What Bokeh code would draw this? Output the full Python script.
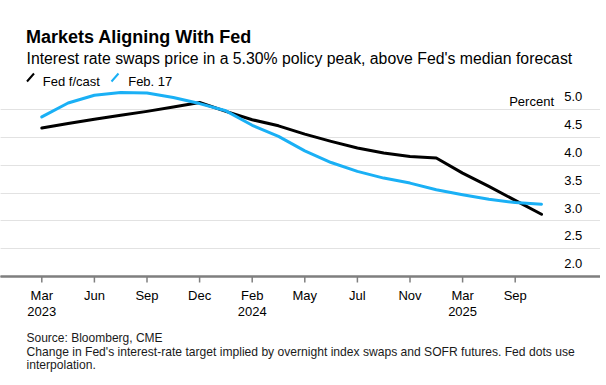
from bokeh.plotting import figure
from bokeh.models import (ColumnDataSource, Label, LabelSet, Grid, PolyAnnotation,
                          FixedTicker, Range1d)
from bokeh.embed import file_html
from bokeh.resources import INLINE
from bokeh.core.properties import value

# ---- data ----
month_labels = ["Mar", "Jun", "Sep", "Dec", "Feb", "May", "Jul", "Nov", "Mar", "Sep"]
year_labels = ["2023", "", "", "", "2024", "", "", "", "2025", ""]
fed_fcast = [4.67, 4.75, 4.83, 4.90, 4.97, 5.05, 5.13, 4.97, 4.82, 4.71,
             4.56, 4.43, 4.31, 4.22, 4.16, 4.13, 3.86, 3.62, 3.37, 3.12]
feb_17 = [4.87, 5.12, 5.26, 5.31, 5.30, 5.22, 5.11, 4.98, 4.72, 4.52,
          4.26, 4.05, 3.89, 3.77, 3.68, 3.56, 3.47, 3.39, 3.33, 3.30]
y_ticks = [2.0, 2.5, 3.0, 3.5, 4.0, 4.5, 5.0]

FONT = "Liberation Sans"
BLUE = "#1ab0f5"
GRID = "#e2e2e2"
AXIS = "#7f7f7f"

# ---- layout (pixels) ----
W, H = 600, 380
X0_PX, DX_PX = 41.3, 26.3          # pixel of first point, pixels per point
Y_BASE, Y0_PX, DY_PX = 2.0, 276.0, 55.6  # value at axis, its pixel row, px per unit
PLOT_L, PLOT_R, LAB_L, LAB_R = 32.0, 550.7, 556.7, 581.0

def xd(px):
    return (px - X0_PX) / DX_PX

def yd(py):
    return Y_BASE + (Y0_PX - py) / DY_PX

x_idx = list(range(len(fed_fcast)))
tick_pos = [2 * i for i in range(len(month_labels))]

p = figure(width=W, height=H, output_backend="svg", toolbar_location=None,
           x_range=Range1d(xd(0), xd(W)), y_range=Range1d(yd(H), yd(0)),
           x_axis_location=None, y_axis_location=None, min_border=0,
           outline_line_color=None)
p.background_fill_color = "white"
p.border_fill_color = "white"
p.xgrid.visible = False
p.ygrid.visible = False

# horizontal gridlines in two pieces (plot area and value-label column)
for lo, hi in [(PLOT_L, PLOT_R), (LAB_L, LAB_R)]:
    p.add_layout(Grid(dimension=1, ticker=FixedTicker(ticks=y_ticks[1:]),
                      bounds=(xd(lo), xd(hi)), grid_line_color=GRID,
                      grid_line_width=1))
    p.add_layout(Grid(dimension=1, ticker=FixedTicker(ticks=y_ticks[:1]),
                      bounds=(xd(lo), xd(hi)), grid_line_color=AXIS,
                      grid_line_width=2, level="guide"))

# x ticks and labels
tick_len = 6 / DY_PX
p.segment(x0=tick_pos, x1=tick_pos, y0=[y_ticks[0]] * len(tick_pos),
          y1=[y_ticks[0] - tick_len] * len(tick_pos), line_color=AXIS, line_width=1.5)
xsrc = ColumnDataSource(dict(x=tick_pos, y=[y_ticks[0]] * len(tick_pos),
                             m=month_labels, yr=year_labels))
for col, off in [("m", -23.3), ("yr", -39.0)]:
    p.add_layout(LabelSet(x="x", y="y", text=col, source=xsrc, text_align="center",
                          text_baseline="alphabetic", y_offset=off,
                          text_font=value(FONT), text_font_size="13px",
                          text_color="#000000"))

# lines
p.line(x_idx, fed_fcast, line_color="black", line_width=3, line_join="round",
       line_cap="round")
p.line(x_idx, feb_17, line_color=BLUE, line_width=3, line_join="round",
       line_cap="round")

# y labels (above gridlines, right-aligned)
ysrc = ColumnDataSource(dict(x=[xd(LAB_R) + 0.03] * len(y_ticks), y=y_ticks,
                             t=[f"{v:.1f}" for v in y_ticks]))
p.add_layout(LabelSet(x="x", y="y", text="t", source=ysrc, text_align="right",
                      text_baseline="alphabetic", y_offset=8.3,
                      text_font=value(FONT), text_font_size="13px",
                      text_color="#000000"))
p.add_layout(Label(x=xd(LAB_R), y=y_ticks[-1], text="Percent", x_offset=-27.5,
                   y_offset=8.3, text_align="right", text_baseline="alphabetic",
                   text_font=FONT, text_font_size="13px", text_color="#000000"))

def slabel(px, py, text, size, bold=False, color="#000000"):
    p.add_layout(Label(x=px, y=H - py, x_units="screen", y_units="screen", text=text,
                       text_align="left", text_baseline="alphabetic",
                       text_font=FONT, text_font_size=size,
                       text_font_style="bold" if bold else "normal",
                       text_color=color))

slabel(25.5, 36, "Markets Aligning With Fed", "18px", bold=True)
slabel(26, 57.5, "Interest rate swaps price in a 5.30% policy peak, above Fed's median forecast", "15.8px")
slabel(42.3, 81, "Fed f/cast", "13px")
slabel(127.7, 81, "Feb. 17", "13px")
slabel(26, 337.5, "Source: Bloomberg, CME", "12px", color="#1a1a1a")
slabel(26, 351.5, "Change in Fed's interest-rate target implied by overnight index swaps and SOFR futures. Fed dots use", "12.1px", color="#1a1a1a")
slabel(26, 364.5, "interpolation.", "12.1px", color="#1a1a1a")

# legend glyphs (short diagonal strokes)
for x0, col in [(26.5, "black"), (111, BLUE)]:
    p.add_layout(PolyAnnotation(xs=[x0, x0 + 7, x0 + 7, x0],
                                ys=[H - 81, H - 73, H - 73, H - 81],
                                xs_units="screen", ys_units="screen",
                                line_color=col, line_alpha=1.0, line_width=2,
                                fill_alpha=0))

open("out.html", "w").write(file_html(p, INLINE))
